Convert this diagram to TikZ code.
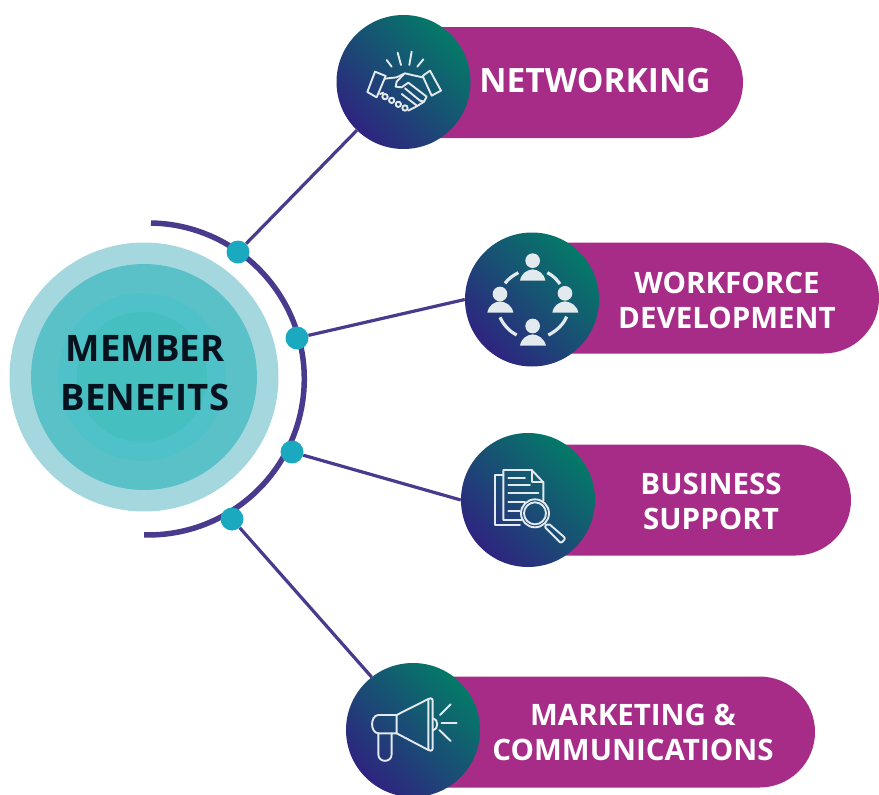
\documentclass[tikz,border=0pt]{standalone}
\usepackage{fontspec}
\setsansfont{Open Sans}
\usetikzlibrary{positioning}
\usetikzlibrary{shapes.misc}
\definecolor{pillpink}{HTML}{A62C88}
\definecolor{arcpurple}{HTML}{4A3A8E}
\definecolor{dotteal}{HTML}{1AA9BF}
\definecolor{iconline}{HTML}{E2EAEE}
\definecolor{textnavy}{HTML}{07121E}
\tikzset{pill/.style = {fill = pillpink, rounded rectangle, rounded rectangle west arc = none, minimum height = 111, inner sep = 0},
  badge/.style = {circle, inner sep = 0, minimum size = 134, shading = axis,
    bottom color = {rgb,255:red,46;green,36;blue,128}, middle color = {rgb,255:red,21;green,84;blue,112}, top color = {rgb,255:red,4;green,122;blue,104}, shading angle = -45},
  ring/.style = {circle, inner sep = 0},
  joint/.style = {fill = dotteal, circle, inner sep = 0, minimum size = 23},
  link/.style = {draw = arcpurple, line width = 3.2},
  lbl/.style = {text = white, font = \sffamily\bfseries\fontsize{29.5}{35}\selectfont, align = center, inner sep = 0},
  iconstroke/.style = {draw = iconline, line width = 1.9, line join = round, line cap = round}}

\begin{document}
\begin{tikzpicture}[x = 1pt, y = 1pt]
          \useasboundingbox (0, 0) rectangle (879, -795);

          % centre circle
          \node [ring, fill = {rgb,255:red,164;green,216;blue,222}, minimum size = 269] (outer) at (144, -377) {};
          \node [ring, fill = {rgb,255:red,90;green,193;blue,200}, minimum size = 226] (second) at (144, -377) {};
          \node [ring, fill = {rgb,255:red,79;green,193;blue,200}, minimum size = 168] (third) at (142, -377) {};
          \node [ring, fill = {rgb,255:red,69;green,191;blue,192}, minimum size = 130] (inner) at (142, -377) {};
          \node [text = textnavy, font = \sffamily\bfseries\fontsize{36.5}{49}\selectfont, align = center, inner sep = 0] (memberlbl) at (145, -373) {MEMBER\\BENEFITS};

          \coordinate (arctop) at (151, -223);
          \draw [arcpurple, line width = 5.5] (arctop) arc [start angle = 89, end angle = -91.5, radius = 156];

          % pills
          \node [pill, minimum width = 340] (netpill) at (573, -82.5) {};
          \node [pill, minimum width = 347] (workpill) at (705.5, -298) {};
          \node [pill, minimum width = 323] (bizpill) at (689.5, -500) {};
          \node [pill, minimum width = 402] (mktpill) at (614, -732) {};

          \node [lbl, font = \sffamily\bfseries\fontsize{33.5}{38}\selectfont] (netlbl) at (595, -81) {NETWORKING};
          \node [lbl] (worklbl) at (727, -300) {WORKFORCE\\DEVELOPMENT};
          \node [lbl] (bizlbl) at (711, -501) {BUSINESS\\SUPPORT};
          \node [lbl] (mktlbl) at (633, -732) {MARKETING \&\\COMMUNICATIONS};

          % joints on the arc
          \node [joint] (j1) at (238, -252) {};
          \node [joint] (j2) at (297, -338) {};
          \node [joint] (j3) at (292, -452) {};
          \node [joint] (j4) at (232, -519) {};

          % badges
          \node [badge] (net) at (403.5, -82) {};
          \node [badge] (work) at (532, -299.5) {};
          \node [badge] (biz) at (528, -500) {};
          \node [badge] (mkt) at (413, -730) {};

          \draw [link] (j1) -- (net.226);
          \draw [link] (j2) -- (work.west);
          \draw [link] (j3) -- (biz.west);
          \draw [link] (j4) -- (mkt.128);

          % handshake
          \begin{scope}[shift = {(330, 0)}, x = 0.3333pt, y = -0.3333pt, iconstroke]
            \draw (170, 180) -- (185, 200);
            \draw (203, 158) -- (213, 195);
            \draw (245, 155) -- (238, 195);
            \draw (280, 178) -- (262, 200);
            \draw (135, 215) -- (167, 228) -- (140, 292) -- (112, 276) -- cycle;
            \draw (300, 212) -- (333, 272) -- (305, 287) -- (278, 228) -- cycle;
            \draw (165, 236) -- (200, 232) -- (225, 220) -- (250, 226) -- (278, 232);
            \draw (222, 222) -- (200, 245) -- (197, 260) -- (215, 262) -- (235, 248) -- (290, 290) -- (282, 305) -- (270, 302);
            \draw (270, 302) -- (225, 265);
            \draw (282, 305) -- (262, 318) -- (215, 282);
            \draw (262, 318) -- (235, 332);
            \draw (150, 282) -- (160, 278);
            \draw (165, 290) circle [radius = 8];
            \draw (185, 301) circle [radius = 8];
            \draw (205, 313) circle [radius = 8];
            \draw (225, 324) circle [radius = 8];
          \end{scope}

          % people
          \begin{scope}[shift = {(450, -220)}, x = 0.3333pt, y = -0.3333pt]
            \fill [iconline] (248, 122) circle [radius = 22];
            \fill [iconline] (150, 222) circle [radius = 22];
            \fill [iconline] (345, 220) circle [radius = 22];
            \fill [iconline] (248, 318) circle [radius = 22];
            \fill [iconline] (210, 182) .. controls (214, 160) and (230, 150) .. (248, 148) .. controls (266, 150) and (282, 160) .. (286, 182) -- cycle;
            \fill [iconline] (112, 278) .. controls (116, 256) and (132, 246) .. (150, 244) .. controls (168, 246) and (186, 256) .. (190, 278) -- cycle;
            \fill [iconline] (307, 278) .. controls (311, 256) and (327, 246) .. (345, 244) .. controls (363, 246) and (381, 256) .. (385, 278) -- cycle;
            \fill [iconline] (210, 377) .. controls (214, 355) and (230, 345) .. (248, 343) .. controls (266, 345) and (282, 355) .. (288, 377) -- cycle;
            \draw [iconline, line width = 3.2] (165, 190) .. controls (175, 176) and (190, 166) .. (205, 158);
            \draw [iconline, line width = 3.2] (292, 158) .. controls (308, 166) and (320, 178) .. (330, 192);
            \draw [iconline, line width = 3.2] (150, 292) .. controls (160, 314) and (178, 334) .. (200, 345);
            \draw [iconline, line width = 3.2] (295, 345) .. controls (318, 334) and (340, 314) .. (350, 290);
          \end{scope}

          % document and magnifier
          \begin{scope}[shift = {(450, -425)}, x = 0.3333pt, y = -0.3333pt, iconstroke]
            \draw (160, 150) -- (135, 150) -- (135, 300) -- (210, 300);
            \draw (215, 285) -- (160, 285) -- (160, 135) -- (245, 135) -- (280, 172) -- (280, 228);
            \draw (245, 135) -- (245, 172) -- (280, 172);
            \draw (175, 160) -- (225, 160);
            \draw (175, 181) -- (240, 181);
            \draw (175, 205) -- (265, 205);
            \draw (175, 230) -- (225, 230);
            \draw (175, 258) -- (210, 258);
            \draw (255, 265) circle [radius = 42];
            \draw (255, 265) circle [radius = 33];
            \draw [rounded corners = 2] (283, 305) -- (295, 295) -- (347, 340) -- (333, 355) -- cycle;
          \end{scope}

          % megaphone
          \begin{scope}[shift = {(340, -655)}, x = 0.3333pt, y = -0.3333pt, iconstroke]
            \draw (170, 180) -- (265, 132);
            \draw (170, 235) -- (265, 285);
            \draw [rounded corners = 2] (265, 130) -- (278, 130) -- (278, 287) -- (265, 287) -- cycle;
            \draw (170, 180) -- (115, 180) .. controls (90, 182) and (90, 233) .. (115, 235) -- (170, 235) -- cycle;
            \draw (115, 235) -- (115, 298) .. controls (115, 324) and (155, 324) .. (155, 298) -- (155, 235);
            \draw (279, 190) .. controls (296, 192) and (296, 224) .. (279, 226);
            \draw (300, 180) -- (332, 148);
            \draw (305, 203) -- (350, 203);
            \draw (298, 225) -- (332, 258);
          \end{scope}
        \end{tikzpicture}
\end{document}
